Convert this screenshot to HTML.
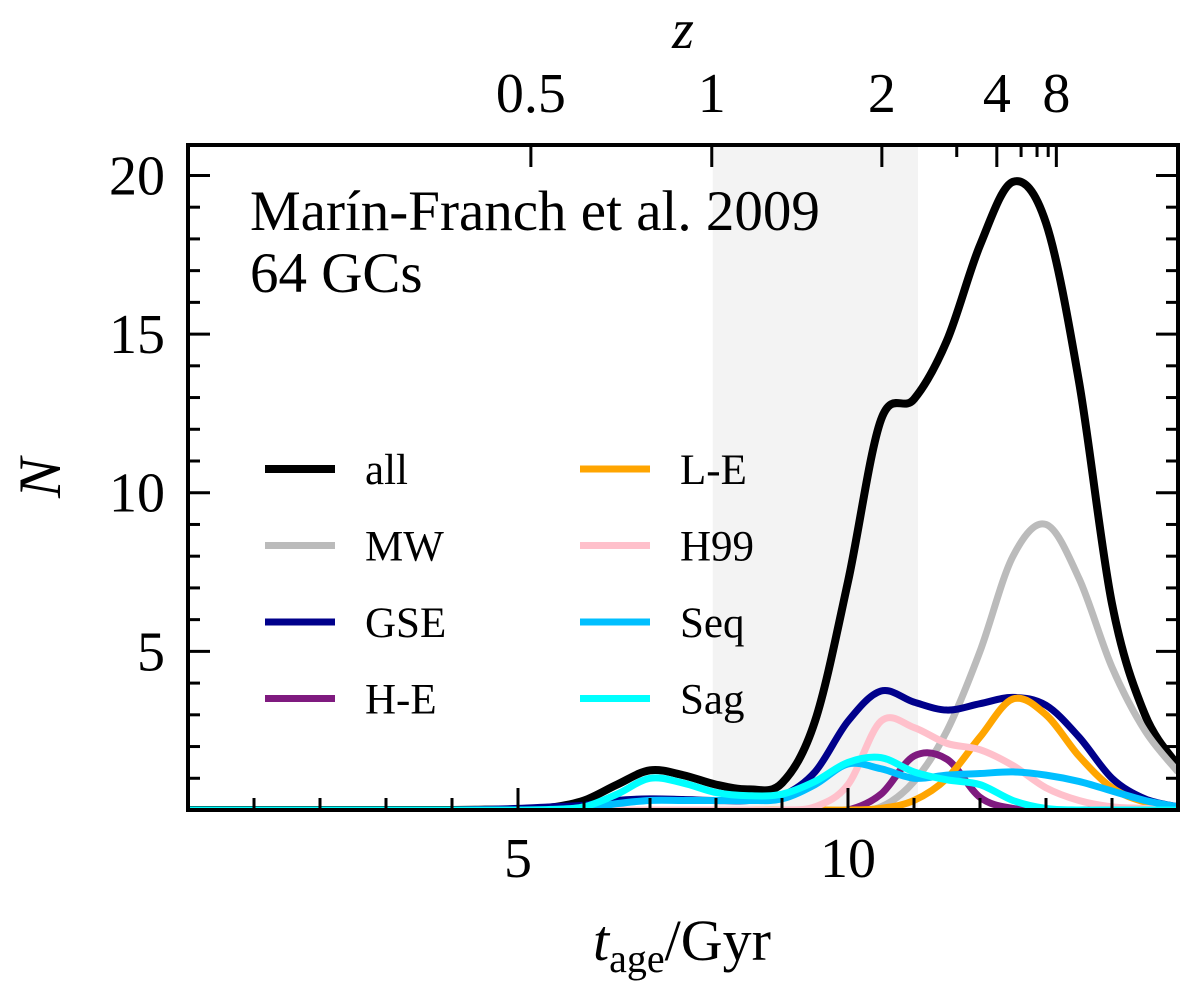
<!DOCTYPE html>
<html><head><meta charset="utf-8"><style>
body{margin:0;background:#fff}
text{font-family:"Liberation Serif",serif}
</style></head><body>
<svg id="c" width="1200" height="986" xmlns="http://www.w3.org/2000/svg"></svg>
<script>
const tGrid=[0,1,2,3,4,4.5,5,5.5,6,6.5,7,7.5,8,8.5,9,9.5,10,10.5,11,11.5,12,12.5,13,13.5,14,14.5,15];
const seriesNames=['all','MW','GSE','H-E','L-E','H99','Seq','Sag'];
const seriesColors=['#000','#bbbbbb','#00008b','#7f1a7f','#ffa500','#ffc0cb','#00bfff','#00ffff'];
const allVals=[0,0,0,0,0,0.01,0.02,0.08,0.3,0.8,1.25,1.1,0.8,0.65,0.85,2.8,7.2,12.3,12.95,14.8,17.8,19.8,18.5,13.5,6.5,3.0,1.4];
const mwVals=[0,0,0,0,0,0,0,0,0,0,0,0,0,0,0,0,0,0.1,0.9,2.5,5.0,8.0,9.0,7.3,4.5,2.5,1.2];
const gseVals=[0,0,0,0,0,0.02,0.05,0.1,0.15,0.3,0.35,0.33,0.3,0.3,0.45,1.2,2.8,3.75,3.4,3.15,3.35,3.55,3.3,2.3,1.0,0.35,0.1];
const heVals=[0,0,0,0,0,0,0,0,0,0,0,0,0,0,0,0,0,0.5,1.7,1.6,0.4,0.05,0,0,0,0,0];
const leVals=[0,0,0,0,0,0,0,0,0,0,0,0,0,0,0,0,0,0.05,0.3,1.0,2.3,3.5,3.0,1.7,0.7,0.25,0.1];
const h99Vals=[0,0,0,0,0,0,0,0,0,0,0,0,0,0,0,0.1,0.8,2.8,2.6,2.1,1.9,1.4,0.7,0.3,0.1,0.05,0];
const seqVals=[0,0,0,0,0,0,0,0,0.05,0.2,0.3,0.3,0.3,0.3,0.35,0.8,1.45,1.3,1.0,1.1,1.15,1.2,1.1,0.9,0.6,0.3,0.1];
const sagVals=[0,0,0,0,0,0,0,0.02,0.1,0.5,1.0,0.85,0.55,0.45,0.5,0.9,1.5,1.65,1.2,0.95,0.8,0.3,0.05,0,0,0,0];
const xTicks=[5,10];
const yTicks=[5,10,15,20];
const zTicks=[0.5,1,2,4,8];
const zMinor=[3,5,6,7];
const shadeRange=[7.95,11.06];

const X0=188,X1=1178,Y0=810,Y1=145,XMAX=15,YMAX=20.96;
const sx=t=>X0+(X1-X0)*t/XMAX, sy=n=>Y0-(Y0-Y1)*n/YMAX;
const svg=document.getElementById('c');const NS='http://www.w3.org/2000/svg';
function mk(tag,at,parent){const e=document.createElementNS(NS,tag);for(const k in at)e.setAttribute(k,at[k]);(parent||svg).appendChild(e);return e;}
function lookback(z){const H0=67.7,Om=0.31,n=400;let s=0;for(let i=0;i<n;i++){const zz=(i+0.5)*z/n;s+=1/((1+zz)*Math.sqrt(Om*Math.pow(1+zz,3)+1-Om));}return 977.8/H0*s*z/n;}

const sh=mk('rect',{x:sx(shadeRange[0]),y:Y1,width:sx(shadeRange[1])-sx(shadeRange[0]),height:Y0-Y1,fill:'#f3f3f3'});


const clip=mk('clipPath',{id:'cp'});mk('rect',{x:X0,y:Y1,width:X1-X0,height:Y0-Y1},clip);
const vals=[allVals,mwVals,gseVals,heVals,leVals,h99Vals,seqVals,sagVals];
function pathFor(v){const p=tGrid.map((t,i)=>[sx(t),sy(v[i])]);let d='M'+p[0][0]+','+p[0][1];
for(let i=0;i<p.length-1;i++){const a=p[Math.max(0,i-1)],b=p[i],c=p[i+1],e=p[Math.min(p.length-1,i+2)];
const c1=[b[0]+(c[0]-a[0])/6,b[1]+(c[1]-a[1])/6],c2=[c[0]-(e[0]-b[0])/6,c[1]-(e[1]-b[1])/6];
d+=`C${c1[0]},${Math.min(Y0+2,c1[1])} ${c2[0]},${Math.min(Y0+2,c2[1])} ${c[0]},${c[1]}`;}return d;}
const g=mk('g',{'clip-path':'url(#cp)'});
vals.forEach((v,i)=>{const l=mk('path',{d:pathFor(v),fill:'none',stroke:seriesColors[i],'stroke-width':i==0?8:7,'stroke-linejoin':'round'},g);

});
const fr=mk('rect',{x:X0,y:Y1,width:X1-X0,height:Y0-Y1,fill:'none',stroke:'#000','stroke-width':4});

for(let t=1;t<XMAX;t++){const maj=xTicks.includes(t);mk('line',{x1:sx(t),x2:sx(t),y1:Y0,y2:Y0-(maj?22:12),stroke:'#000','stroke-width':3});}
xTicks.forEach(t=>{const e=mk('text',{x:sx(t),y:877,'font-size':56,'text-anchor':'middle'});e.textContent=t;
});
for(let n=1;n<=20;n++){const maj=yTicks.includes(n);const L=maj?22:12;
mk('line',{x1:X0,x2:X0+L,y1:sy(n),y2:sy(n),stroke:'#000','stroke-width':3});
mk('line',{x1:X1,x2:X1-L,y1:sy(n),y2:sy(n),stroke:'#000','stroke-width':3});}
yTicks.forEach(n=>{const e=mk('text',{x:165,y:sy(n)+19,'font-size':56,'text-anchor':'end'});e.textContent=n;
});
zTicks.forEach(z=>{const x=sx(lookback(z));mk('line',{x1:x,x2:x,y1:Y1,y2:Y1+22,stroke:'#000','stroke-width':3});
const e=mk('text',{x:x,y:112,'font-size':56,'text-anchor':'middle'});e.textContent=z;
});
zMinor.forEach(z=>{const x=sx(lookback(z));mk('line',{x1:x,x2:x,y1:Y1,y2:Y1+12,stroke:'#000','stroke-width':3});});
let e=mk('text',{x:683,y:48,'font-size':56,'font-style':'italic','text-anchor':'middle'});e.textContent='z';

e=mk('text',{x:0,y:0,'font-size':60,'font-style':'italic','text-anchor':'middle',transform:'translate(60,478) rotate(-90)'});e.textContent='N';

e=mk('text',{x:682,y:960,'font-size':58,'text-anchor':'middle'});
e.innerHTML='<tspan font-style="italic">t</tspan><tspan font-size="40" dy="12">age</tspan><tspan dy="-12">/Gyr</tspan>';

e=mk('text',{x:250,y:230,'font-size':57});e.textContent='Marín-Franch et al. 2009';

e=mk('text',{x:250,y:292,'font-size':57});e.textContent='64 GCs';

seriesNames.forEach((nm,i)=>{const col=Math.floor(i/4),row=i%4;const lx=col?580:265,ly=469+row*76.5;
const lg=mk('g',{});
mk('line',{x1:lx,x2:lx+70,y1:ly,y2:ly,stroke:seriesColors[i],'stroke-width':i==0?8:7},lg);
const t=mk('text',{x:lx+100,y:ly+15,'font-size':43},lg);t.textContent=nm;});
</script>
</body></html>
